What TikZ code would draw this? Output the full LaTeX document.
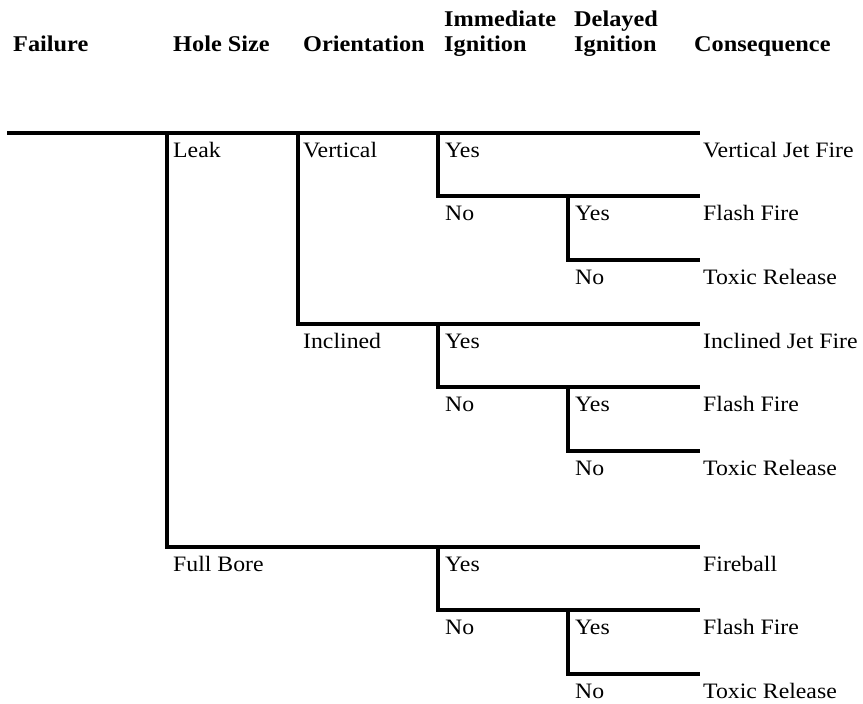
\documentclass[tikz,border=0pt]{standalone}
\usepackage{fontspec}
\setmainfont{Liberation Serif}[FakeStretch=1.08]
\tikzset{
  branch/.style={line width=4pt},
  lbl/.style={anchor=base west, inner sep=0pt, font=\fontsize{22}{26}\selectfont},
  hdr/.style={anchor=base west, inner sep=0pt, font=\fontsize{22.5}{27}\selectfont\bfseries}
}

\begin{document}
\begin{tikzpicture}[x=1pt,y=-1pt]
\useasboundingbox (0,0) rectangle (863,704);
% headings
\node[hdr] (hfail) at (13,51) {Failure};
\node[hdr] (hhole) at (173,51) {Hole Size};
\node[hdr] (horient) at (303,51) {Orientation};
\node[hdr] (himm) at (444,26) {Immediate};
\node[hdr] (himmb) at (444,51) {Ignition};
\node[hdr] (hdel) at (574,26) {Delayed};
\node[hdr] (hdelb) at (574,51) {Ignition};
\node[hdr] (hcons) at (694,51) {Consequence};

% failure, hole size and orientation
\coordinate (root) at (7,133);
\coordinate (hole) at (167,133);
\coordinate (orient) at (298,133);
\coordinate (rootend) at (700,133);
\draw[branch] (root) -- (rootend);
\coordinate (bore) at (167,547);
\coordinate (boreend) at (700,547);
\draw[branch] (hole) -- (bore) -- (boreend);
\coordinate (incl) at (298,324);
\coordinate (inclend) at (700,324);
\draw[branch] (orient) -- (incl) -- (inclend);
\node[lbl] (leak) at (173,157) {Leak};
\node[lbl] (fullbore) at (173,571) {Full Bore};
\node[lbl] (vert) at (303,157) {Vertical};
\node[lbl] (inclined) at (303,348) {Inclined};

% ignition branches
\foreach \y/\n/\c in {133/v/Vertical Jet Fire, 324/i/Inclined Jet Fire, 547/f/Fireball} {
  \coordinate (imm\n) at (438,\y);
  \coordinate (immno\n) at (438,\y+63);
  \coordinate (immnoend\n) at (700,\y+63);
  \coordinate (del\n) at (568,\y+63);
  \coordinate (delno\n) at (568,\y+127);
  \coordinate (delnoend\n) at (700,\y+127);
  \draw[branch] (imm\n) -- (immno\n) -- (immnoend\n);
  \draw[branch] (del\n) -- (delno\n) -- (delnoend\n);
  \node[lbl] (yes\n) at (445,\y+24) {Yes};
  \node[lbl] (no\n) at (445,\y+87) {No};
  \node[lbl] (dyes\n) at (575,\y+87) {Yes};
  \node[lbl] (dno\n) at (575,\y+151) {No};
  \node[lbl] (cons\n) at (703,\y+24) {\c};
  \node[lbl] (flash\n) at (703,\y+87) {Flash Fire};
  \node[lbl] (toxic\n) at (703,\y+151) {Toxic Release};
}
\end{tikzpicture}
\end{document}
